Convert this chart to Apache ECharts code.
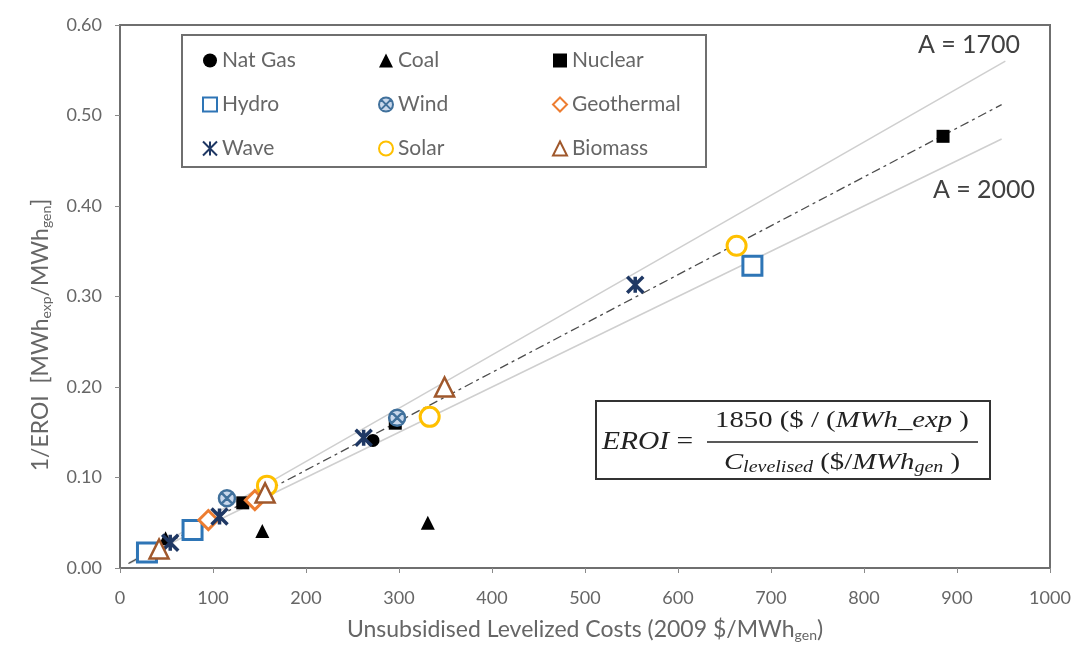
<!DOCTYPE html>
<html>
<head>
<meta charset="utf-8">
<script src="https://cdn.jsdelivr.net/npm/echarts/dist/echarts.min.js"></script>
<style>
html,body{margin:0;padding:0;background:#fff;}
#chart{width:1077px;height:647px;}
</style>
</head>
<body>
<div id="chart"></div>
<script>
// ---- data ----
const natGas     = [[272, 0.141]];
const coal       = [[49, 0.033], [153, 0.041], [331, 0.050]];
const nuclear    = [[132, 0.072], [296, 0.160], [885, 0.477]];
const hydro      = [[29, 0.017], [78, 0.042], [680, 0.334]];
const wind       = [[115, 0.077], [298, 0.166]];
const geothermal = [[95, 0.053], [145, 0.075]];
const wave       = [[54, 0.028], [107, 0.057], [262, 0.144], [554, 0.313]];
const solar      = [[158, 0.091], [333, 0.167], [663, 0.356]];
const biomass    = [[42, 0.021], [156, 0.083], [349, 0.200]];

// reference lines (end points)
const lineA1700 = [[10, 0.006], [952, 0.560]];
const lineA1850 = [[9, 0.005], [948, 0.512]];
const lineA2000 = [[10, 0.005], [948, 0.474]];

const legendCol1 = ['Nat Gas', 'Hydro', 'Wave'];
const legendCol2 = ['Coal', 'Wind', 'Solar'];
const legendCol3 = ['Nuclear', 'Geothermal', 'Biomass'];

const xMin = 0, xMax = 1000, xStep = 100;
const yMin = 0, yMax = 0.6, yStep = 0.1;

// ---- styling ----
const GRAY = '#666666';
const FONT = 'Lato';
const SERIF = 'Liberation Serif';
const WAVE_PATH = 'path://M0,0L10,10M10,0L0,10M5,0L5,10';
const WIND_PATH = 'path://M10,0A10,10,0,1,1,10,20A10,10,0,1,1,10,0ZM3,3L17,17M17,3L3,17';

function scatter(name, data, symbol, size, itemStyle) {
  return { name, type: 'scatter', data, symbol, symbolSize: size,
           itemStyle: Object.assign({ opacity: 1 }, itemStyle), z: 3 };
}
function refLine(data, color, width, type) {
  return { type: 'line', data, symbol: 'none', silent: true, z: 2,
           lineStyle: { color, width, type }, animation: false };
}

const chart = echarts.init(document.getElementById('chart'));
const legendBase = {
  orient: 'vertical', top: 50, padding: 0, itemWidth: 14, itemHeight: 14, itemGap: 23,
  textStyle: { color: GRAY, fontFamily: FONT, fontSize: 21 }, selectedMode: false
};

chart.setOption({
  animation: false,
  backgroundColor: '#fff',
  grid: { left: 120, right: 27, top: 25, bottom: 77, show: true,
          borderColor: '#6f6f6f', borderWidth: 2, backgroundColor: 'transparent' },
  xAxis: {
    type: 'value', min: xMin, max: xMax, interval: xStep,
    name: 'Unsubsidised Levelized Costs (2009 $/MWh{sub|gen})',
    nameLocation: 'middle', nameGap: 50,
    nameTextStyle: { color: GRAY, fontFamily: FONT, fontSize: 23,
      rich: { sub: { fontSize: 14, verticalAlign: 'bottom', padding: [10, 0, 0, 0], color: GRAY, fontFamily: FONT } } },
    axisLine: { show: true, lineStyle: { color: '#6f6f6f', width: 2 } },
    axisTick: { show: true, inside: false, length: 5, lineStyle: { color: '#8a8a8a' } },
    axisLabel: { color: GRAY, fontFamily: FONT, fontSize: 18, margin: 21,
                 formatter: v => String(v) },
    splitLine: { show: false }
  },
  yAxis: {
    type: 'value', min: yMin, max: yMax, interval: yStep,
    axisLine: { show: true, lineStyle: { color: '#6f6f6f', width: 2 } },
    axisTick: { show: true, inside: false, length: 5, lineStyle: { color: '#8a8a8a' } },
    axisLabel: { color: GRAY, fontFamily: FONT, fontSize: 18, margin: 18,
                 formatter: v => v.toFixed(2) },
    splitLine: { show: false }
  },
  legend: [
    Object.assign({}, legendBase, { left: 202, data: legendCol1 }),
    Object.assign({}, legendBase, { left: 378, data: legendCol2 }),
    Object.assign({}, legendBase, { left: 552, data: legendCol3 })
  ],
  series: [
    refLine(lineA1700, '#cfcfcf', 1.5, 'solid'),
    refLine(lineA2000, '#cfcfcf', 1.5, 'solid'),
    refLine(lineA1850, '#4d4d4d', 1.3, [9, 4, 3, 4]),
    scatter('Nat Gas', natGas, 'circle', 13, { color: '#000' }),
    scatter('Coal', coal, 'triangle', 14, { color: '#000' }),
    scatter('Nuclear', nuclear, 'rect', 13, { color: '#000' }),
    scatter('Hydro', hydro, 'rect', 19, { color: '#fff', borderColor: '#2E75B6', borderWidth: 3 }),
    scatter('Wind', wind, WIND_PATH, 16, { color: '#c9d8ec', borderColor: '#41719C', borderWidth: 2.5 }),
    scatter('Geothermal', geothermal, 'diamond', 19, { color: '#fff', borderColor: '#ED7D31', borderWidth: 3 }),
    scatter('Wave', wave, WAVE_PATH, 16, { color: '#1F3864', borderColor: '#1F3864', borderWidth: 3.5 }),
    scatter('Solar', solar, 'circle', 19, { color: '#fff', borderColor: '#FFC000', borderWidth: 3 }),
    scatter('Biomass', biomass, 'triangle', 19, { color: '#fff', borderColor: '#A0582C', borderWidth: 2.5 })
  ],
  graphic: [
    { type: 'rect', z: 1, shape: { x: 182, y: 35, width: 524, height: 132 },
      style: { fill: '#fff', stroke: '#6f6f6f', lineWidth: 2 } },
    { type: 'text', x: 969, y: 45, z: 5,
      style: { text: 'A = 1700', fill: '#404040', font: '25px Lato', align: 'center', verticalAlign: 'middle' } },
    { type: 'text', x: 984, y: 190, z: 5,
      style: { text: 'A = 2000', fill: '#404040', font: '25px Lato', align: 'center', verticalAlign: 'middle' } },
    { type: 'text', x: 41, y: 335, rotation: Math.PI / 2, z: 5,
      style: { text: '1/EROI  [MWh{s|exp}/MWh{s|gen}]', fill: GRAY, font: '23px Lato',
               align: 'center', verticalAlign: 'middle',
               rich: { s: { fontSize: 14, fill: GRAY, fontFamily: FONT, padding: [10, 0, 0, 0] } } } },
    { type: 'rect', z: 4, shape: { x: 596, y: 401, width: 394, height: 78 },
      style: { fill: '#fff', stroke: '#333', lineWidth: 2 } },
    { type: 'text', x: 602, y: 442, scaleX: 1.18, z: 5,
      style: { text: '{i|EROI} =', font: '25px "Liberation Serif"', fill: '#222', verticalAlign: 'middle',
               rich: { i: { fontStyle: 'italic', fontSize: 25, fontFamily: SERIF, fill: '#222' } } } },
    { type: 'line', z: 5, shape: { x1: 707, y1: 442, x2: 978, y2: 442 },
      style: { stroke: '#222', lineWidth: 1.5 } },
    { type: 'text', x: 842, y: 421, scaleX: 1.25, z: 5,
      style: { text: '1850 ($ / ({i|MWh_exp} )', font: '23px "Liberation Serif"', fill: '#222',
               align: 'center', verticalAlign: 'middle',
               rich: { i: { fontStyle: 'italic', fontSize: 23, fontFamily: SERIF, fill: '#222' } } } },
    { type: 'text', x: 842, y: 463, scaleX: 1.25, z: 5,
      style: { text: '{i|C}{s|levelised} ($/{i|MWh}{s|gen} )', font: '23px "Liberation Serif"', fill: '#222',
               align: 'center', verticalAlign: 'middle',
               rich: { i: { fontStyle: 'italic', fontSize: 23, fontFamily: SERIF, fill: '#222' },
                       s: { fontStyle: 'italic', fontSize: 16, fontFamily: SERIF, fill: '#222', padding: [9, 0, 0, 0] } } } }
  ]
});
</script>
</body>
</html>
